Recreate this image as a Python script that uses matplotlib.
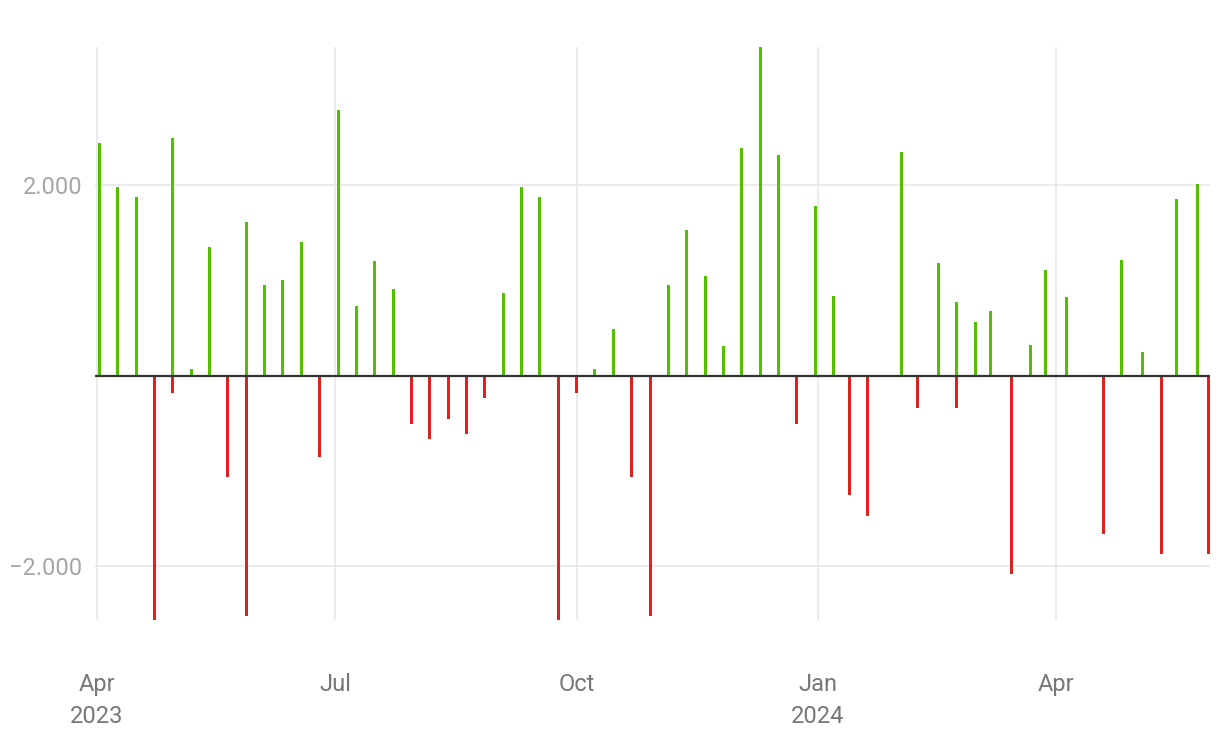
import numpy as np
import pandas as pd
import matplotlib
matplotlib.use("Agg")
import matplotlib.pyplot as plt
import matplotlib.dates as mdates
from matplotlib.ticker import FuncFormatter

plt.rcParams['font.family'] = ['Roboto', 'DejaVu Sans']

# weekly values: positive part and negative part
dates = pd.to_datetime([
    "2023-04-02", "2023-04-09", "2023-04-16", "2023-04-23", "2023-04-30",
    "2023-05-07", "2023-05-14", "2023-05-21", "2023-05-28", "2023-06-04",
    "2023-06-11", "2023-06-18", "2023-06-25", "2023-07-02", "2023-07-09",
    "2023-07-16", "2023-07-23", "2023-07-30", "2023-08-06", "2023-08-13",
    "2023-08-20", "2023-08-27", "2023-09-03", "2023-09-10", "2023-09-17",
    "2023-09-24", "2023-10-01", "2023-10-08", "2023-10-15", "2023-10-22",
    "2023-10-29", "2023-11-05", "2023-11-12", "2023-11-19", "2023-11-26",
    "2023-12-03", "2023-12-10", "2023-12-17", "2023-12-24", "2023-12-31",
    "2024-01-07", "2024-01-13", "2024-01-20", "2024-02-02", "2024-02-08",
    "2024-02-16", "2024-02-23", "2024-03-01", "2024-03-07", "2024-03-15",
    "2024-03-22", "2024-03-28", "2024-04-05", "2024-04-19", "2024-04-26",
    "2024-05-04", "2024-05-11", "2024-05-17", "2024-05-25", "2024-05-29",
])
gains = [
    2439, 1976, 1871, 0, 2492,
    69, 1355, 0, 1617, 956,
    1008, 1407, 0, 2786, 734,
    1198, 911, 0, 0, 0,
    0, 0, 871, 1976, 1871,
    0, 0, 69, 492, 0,
    0, 956, 1524, 1048, 310,
    2387, 3451, 2314, 0, 1786,
    839, 0, 0, 2347, 0,
    1185, 774, 564, 681, 0,
    323, 1113, 827, 0, 1218,
    250, 0, 1851, 2008, 0,
]
losses = [
    0, 0, 0, -2568, -181,
    0, 0, -1064, -2528, 0,
    0, 0, -855, 0, 0,
    0, 0, -508, -665, -456,
    -613, -234, 0, 0, 0,
    -2568, -181, 0, 0, -1064,
    -2528, 0, 0, 0, 0,
    0, 0, 0, -508, 0,
    0, -1258, -1480, 0, -343,
    0, -343, 0, 0, -2089,
    0, 0, 0, -1661, 0,
    0, -1879, 0, 0, -1871,
]
tick_dates = pd.to_datetime(["2023-04-01", "2023-07-01", "2023-10-01",
                             "2024-01-01", "2024-04-01"])
tick_labels = ["Apr\n2023", "Jul", "Oct", "Jan\n2024", "Apr"]

fig = plt.figure(figsize=(12.2, 7.44), dpi=100)
ax = fig.add_axes([95 / 1220, 1 - 620 / 744, (1210 - 95) / 1220, (620 - 47) / 744])

ax.bar(dates, gains, width=1.15, color='#52bf00', lw=0, antialiased=False, zorder=3)
ax.bar(dates, losses, width=1.15, color='#e01f1f', lw=0, antialiased=False, zorder=3)
ax.axhline(0, color='#333333', lw=1.6, zorder=4)

ax.set_xlim(dates[0] - pd.Timedelta(days=1.7), dates[-1] + pd.Timedelta(days=0.6))
ax.set_ylim(min(losses), max(gains))

ax.set_yticks([-2000, 2000])
ax.yaxis.set_major_formatter(FuncFormatter(
    lambda v, p: ("\u2212" if v < 0 else "") + f"{abs(int(v)):,}".replace(",", ".")))
ax.set_xticks(mdates.date2num(tick_dates))
ax.set_xticklabels(tick_labels, linespacing=1.45)

ax.grid(True, color='#e5e5e5', lw=1.1, zorder=0)
for s in ax.spines.values():
    s.set_visible(False)
ax.tick_params(axis='y', length=0, pad=9, labelsize=17, labelcolor='#a6a6a6')
ax.tick_params(axis='x', length=0, pad=38.5, labelsize=17, labelcolor='#777777')

fig.savefig("out.png", dpi=100)
